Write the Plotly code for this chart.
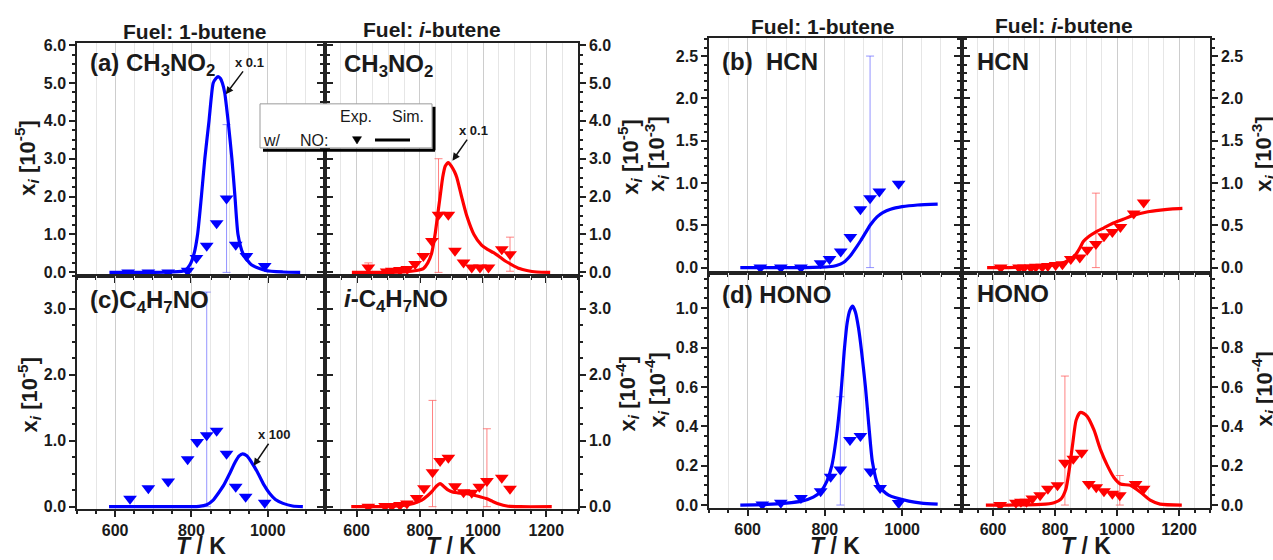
import plotly.graph_objects as go

W, H = 1273, 560
BLUE = "#0000ff"
RED = "#ff0000"
EB_BLUE = "rgba(90,90,255,0.65)"
EB_RED = "rgba(255,90,90,0.75)"
FONT = "Liberation Sans, Arial, sans-serif"
INK = "#1a1a1a"

# ---------------- data (T in K, mole fraction in the axis units) ----------------
# (a) CH3NO2, 1-butene  [1e-5], simulation scaled x0.1
a1_sim_T = [585, 650, 700, 750, 783, 796, 807, 816, 826, 835, 846, 857, 864, 870, 876, 881, 887, 896, 906, 914, 922, 935, 957, 994, 1040, 1085]
a1_sim_y = [0, 0, 0, 0.01, 0.05, 0.2, 0.5, 1.0, 2.0, 3.0, 4.0, 5.0, 5.12, 5.17, 5.12, 5.0, 4.75, 4.0, 3.0, 2.0, 1.0, 0.5, 0.2, 0.05, 0.01, 0]
a1_exp_T = [634, 687, 739, 790, 813, 840, 866, 892, 916, 944, 992]
a1_exp_y = [0.0, 0.0, 0.0, 0.04, 0.38, 0.70, 1.30, 1.95, 0.73, 0.43, 0.17]
a1_err_p = [None, None, None, None, None, None, None, 1.95, None, None, None]
a1_err_m = [None, None, None, None, None, None, None, 1.95, None, None, None]

# (a) CH3NO2, i-butene  [1e-5], simulation scaled x0.1
a2_sim_T = [585, 650, 700, 750, 790, 811, 825, 837, 848, 856, 864, 872, 880, 890, 900, 910, 917, 932, 948, 971, 995, 1015, 1033, 1054, 1070, 1091, 1115, 1138, 1170, 1212]
a2_sim_y = [0, 0, 0, 0.01, 0.05, 0.1, 0.25, 0.5, 1.0, 1.5, 2.0, 2.5, 2.8, 2.9, 2.8, 2.65, 2.5, 2.0, 1.5, 1.0, 0.72, 0.6, 0.52, 0.4, 0.3, 0.2, 0.1, 0.05, 0.01, 0]
a2_exp_T = [637, 695, 711, 737, 760, 785, 811, 838, 859, 890, 911, 938, 964, 990, 1017, 1059, 1085]
a2_exp_y = [0.13, 0.02, 0.04, 0.06, 0.09, 0.22, 0.43, 0.83, 1.52, 1.52, 0.57, 0.26, 0.13, 0.13, 0.13, 0.61, 0.48]
a2_err_p = [0.12, None, None, None, None, None, None, None, 1.48, None, None, None, None, None, None, None, 0.45]
a2_err_m = [0.12, None, None, None, None, None, None, None, 1.52, None, None, None, None, None, None, None, 0.45]

# (c) C4H7NO, 1-butene  [1e-5], simulation scaled x100
c1_sim_T = [584, 650, 700, 750, 800, 820, 840, 857, 870, 885, 900, 915, 925, 934, 945, 960, 975, 990, 1005, 1020, 1040, 1065, 1092]
c1_sim_y = [0, 0, 0, 0, 0, 0.005, 0.03, 0.1, 0.2, 0.33, 0.5, 0.68, 0.77, 0.8, 0.77, 0.65, 0.5, 0.33, 0.2, 0.11, 0.05, 0.01, 0]
c1_exp_T = [639, 687, 739, 790, 815, 840, 866, 892, 916, 942, 992]
c1_exp_y = [0.12, 0.28, 0.38, 0.72, 0.98, 1.08, 1.15, 0.80, 0.30, 0.15, 0.06]
c1_err_p = [None, None, None, None, None, 2.17, None, None, None, None, None]
c1_err_m = [None, None, None, None, None, 1.08, None, None, None, None, None]

# i-C4H7NO, i-butene  [1e-4]
c2_sim_T = [583, 650, 700, 748, 780, 806, 825, 840, 852, 864, 875, 890, 905, 920, 940, 965, 990, 1012, 1030, 1050, 1075, 1117, 1217]
c2_sim_y = [0, 0, 0.005, 0.02, 0.05, 0.1, 0.17, 0.24, 0.31, 0.35, 0.31, 0.25, 0.22, 0.21, 0.2, 0.18, 0.15, 0.12, 0.08, 0.04, 0.01, 0, 0]
c2_exp_T = [637, 690, 711, 737, 759, 790, 813, 840, 864, 890, 911, 938, 964, 988, 1012, 1059, 1085]
c2_exp_y = [0.0, 0.01, 0.01, 0.025, 0.05, 0.13, 0.28, 0.52, 0.69, 0.74, 0.31, 0.22, 0.21, 0.30, 0.39, 0.44, 0.27]
c2_err_p = [None, None, None, None, None, None, None, 1.09, None, None, None, None, None, None, 0.79, None, None]
c2_err_m = [None, None, None, None, None, None, None, 0.52, None, None, None, None, None, None, 0.39, None, None]

# (b) HCN, 1-butene  [1e-3]
b1_sim_T = [581, 650, 700, 750, 790, 810, 830, 848, 866, 880, 893, 905, 917, 935, 950, 970, 1000, 1040, 1092]
b1_sim_y = [0, 0, 0, 0, 0.005, 0.01, 0.025, 0.06, 0.14, 0.23, 0.32, 0.41, 0.5, 0.6, 0.65, 0.69, 0.72, 0.74, 0.75]
b1_exp_T = [633, 686, 738, 789, 812, 841, 866, 892, 917, 941, 991]
b1_exp_y = [0.0, 0.0, 0.0, 0.05, 0.10, 0.19, 0.36, 0.69, 0.82, 0.90, 0.99]
b1_err_p = [None, None, None, None, None, None, None, None, 1.68, None, None]
b1_err_m = [None, None, None, None, None, None, None, None, 0.82, None, None]

# HCN, i-butene  [1e-3]
b2_sim_T = [581, 650, 700, 750, 790, 822, 845, 866, 880, 892, 910, 931, 958, 985, 1020, 1054, 1100, 1140, 1180, 1211]
b2_sim_y = [0, 0, 0.005, 0.015, 0.03, 0.05, 0.09, 0.15, 0.23, 0.31, 0.37, 0.42, 0.47, 0.52, 0.57, 0.62, 0.66, 0.68, 0.695, 0.7]
b2_exp_T = [625, 684, 700, 722, 738, 759, 777, 802, 824, 851, 880, 904, 932, 958, 985, 1011, 1054, 1086]
b2_exp_y = [0.0, 0.0, 0.0, 0.0, 0.01, 0.01, 0.02, 0.03, 0.04, 0.10, 0.12, 0.21, 0.28, 0.37, 0.42, 0.48, 0.64, 0.77]
b2_err_p = [None, None, None, None, None, None, None, None, None, None, None, None, 0.60, None, None, None, None, None]
b2_err_m = [None, None, None, None, None, None, None, None, None, None, None, None, 0.28, None, None, None, None, None]

# (d) HONO, 1-butene  [1e-4]
d1_sim_T = [581, 650, 700, 740, 770, 790, 805, 818, 830, 841, 850, 858, 865, 872, 879, 887, 895, 905, 914, 923, 938, 965, 1017, 1050, 1092]
d1_sim_y = [0, 0.003, 0.01, 0.02, 0.04, 0.07, 0.12, 0.2, 0.35, 0.55, 0.78, 0.93, 0.99, 1.01, 0.98, 0.9, 0.78, 0.6, 0.4, 0.22, 0.1, 0.05, 0.02, 0.01, 0.005]
d1_exp_T = [638, 686, 738, 789, 815, 840, 865, 892, 918, 943, 991]
d1_exp_y = [0.003, 0.012, 0.036, 0.07, 0.144, 0.18, 0.33, 0.35, 0.17, 0.086, 0.01]
d1_err_p = [None, None, None, None, None, 0.37, None, None, None, None, None]
d1_err_m = [None, None, None, None, None, 0.18, None, None, None, None, None]

# HONO, i-butene  [1e-4]
d2_sim_T = [577, 650, 700, 755, 797, 819, 835, 846, 857, 868, 881, 893, 904, 926, 947, 969, 990, 1011, 1043, 1075, 1107, 1139, 1209]
d2_sim_y = [0, 0, 0.001, 0.003, 0.012, 0.03, 0.08, 0.18, 0.31, 0.43, 0.47, 0.465, 0.45, 0.38, 0.28, 0.2, 0.14, 0.107, 0.1, 0.066, 0.025, 0.005, 0]
d2_exp_T = [623, 674, 690, 708, 727, 752, 777, 808, 832, 859, 886, 909, 933, 958, 985, 1009, 1060, 1086]
d2_exp_y = [0.0, 0.012, 0.017, 0.017, 0.033, 0.05, 0.083, 0.1, 0.215, 0.235, 0.265, 0.107, 0.09, 0.07, 0.058, 0.05, 0.107, 0.083]
d2_err_p = [None, None, None, None, None, None, None, None, 0.44, None, None, None, None, None, None, 0.10, None, None]
d2_err_m = [None, None, None, None, None, None, None, None, 0.215, None, None, None, None, None, None, 0.05, None, None]

# tick values
x_ticks_short = [600, 800, 1000]
x_ticks_long = [600, 800, 1000, 1200]
y_ticks_a = [0, 1, 2, 3, 4, 5, 6]
y_ticks_c = [0, 1, 2, 3]
y_ticks_b = [0, 0.5, 1.0, 1.5, 2.0, 2.5]
y_ticks_d = [0, 0.2, 0.4, 0.6, 0.8, 1.0]

# ---------------- layout helpers ----------------
def fx(p):
    return p / W

def fy(p):
    return 1 - p / H

panels = {
    1: dict(l=77, r=325, t=38, b=275.5, xr=[500, 1150], yr=[-0.085, 6.05], side="left", yt=y_ticks_a, mdy=0.25, xt=x_ticks_short, xlab=False),
    2: dict(l=325, r=578, t=38, b=275.5, xr=[500, 1300], yr=[-0.085, 6.05], side="right", yt=y_ticks_a, mdy=0.25, xt=x_ticks_long, xlab=False),
    3: dict(l=77, r=325, t=275.5, b=514, xr=[500, 1150], yr=[-0.035, 3.5], side="left", yt=y_ticks_c, mdy=0.25, xt=x_ticks_short, xlab=True),
    4: dict(l=325, r=578, t=275.5, b=514, xr=[500, 1300], yr=[-0.035, 3.5], side="right", yt=y_ticks_c, mdy=0.25, xt=x_ticks_long, xlab=True),
    5: dict(l=709, r=962, t=33, b=272.5, xr=[500, 1155], yr=[-0.06, 2.71], side="left", yt=y_ticks_b, mdy=0.1, xt=x_ticks_short, xlab=False),
    6: dict(l=962, r=1210, t=33, b=272.5, xr=[500, 1300], yr=[-0.06, 2.71], side="right", yt=y_ticks_b, mdy=0.1, xt=x_ticks_long, xlab=False),
    7: dict(l=709, r=962, t=272.5, b=513, xr=[500, 1155], yr=[-0.015, 1.18], side="left", yt=y_ticks_d, mdy=0.05, xt=x_ticks_short, xlab=True),
    8: dict(l=962, r=1210, t=272.5, b=513, xr=[500, 1300], yr=[-0.015, 1.18], side="right", yt=y_ticks_d, mdy=0.05, xt=x_ticks_long, xlab=True),
}

series = {
    1: (a1_sim_T, a1_sim_y, a1_exp_T, a1_exp_y, a1_err_p, a1_err_m, BLUE, EB_BLUE),
    2: (a2_sim_T, a2_sim_y, a2_exp_T, a2_exp_y, a2_err_p, a2_err_m, RED, EB_RED),
    3: (c1_sim_T, c1_sim_y, c1_exp_T, c1_exp_y, c1_err_p, c1_err_m, BLUE, EB_BLUE),
    4: (c2_sim_T, c2_sim_y, c2_exp_T, c2_exp_y, c2_err_p, c2_err_m, RED, EB_RED),
    5: (b1_sim_T, b1_sim_y, b1_exp_T, b1_exp_y, b1_err_p, b1_err_m, BLUE, EB_BLUE),
    6: (b2_sim_T, b2_sim_y, b2_exp_T, b2_exp_y, b2_err_p, b2_err_m, RED, EB_RED),
    7: (d1_sim_T, d1_sim_y, d1_exp_T, d1_exp_y, d1_err_p, d1_err_m, BLUE, EB_BLUE),
    8: (d2_sim_T, d2_sim_y, d2_exp_T, d2_exp_y, d2_err_p, d2_err_m, RED, EB_RED),
}

fig = go.Figure()

for n, (sT, sy, eT, ey, ep, em, col, ecol) in series.items():
    xa = "x" if n == 1 else f"x{n}"
    ya = "y" if n == 1 else f"y{n}"
    fig.add_trace(go.Scatter(
        x=eT, y=ey, xaxis=xa, yaxis=ya, mode="markers",
        marker=dict(symbol="triangle-down", size=12, color=col, line=dict(width=0)),
        error_y=dict(type="data", symmetric=False, array=ep, arrayminus=em,
                     color=ecol, thickness=1, width=4),
        showlegend=False, hoverinfo="skip"))
    fig.add_trace(go.Scatter(
        x=sT, y=sy, xaxis=xa, yaxis=ya, mode="lines",
        line=dict(color=col, width=3.2, shape="spline", smoothing=0.6),
        showlegend=False, hoverinfo="skip"))

tickfont = dict(family=FONT, size=16, color=INK)
layout = dict(
    width=W, height=H, margin=dict(l=0, r=0, t=0, b=0),
    paper_bgcolor="white", plot_bgcolor="white", showlegend=False,
    font=dict(family=FONT, color=INK),
)
for n, p in panels.items():
    xk = "xaxis" if n == 1 else f"xaxis{n}"
    yk = "yaxis" if n == 1 else f"yaxis{n}"
    ya = "y" if n == 1 else f"y{n}"
    xa = "x" if n == 1 else f"x{n}"
    layout[xk] = dict(
        domain=[fx(p["l"]), fx(p["r"])], anchor=ya, range=p["xr"],
        showline=True, linecolor="#222", linewidth=1.5, mirror=True,
        ticks="outside", ticklen=6, tickwidth=1.5, tickcolor="#222",
        tickmode="array", tickvals=p["xt"], ticktext=[f"<b>{v}</b>" for v in p["xt"]],
        showticklabels=p["xlab"], tickfont=tickfont,
        showgrid=True, gridcolor="#cdcdcd", gridwidth=1, zeroline=False,
        minor=dict(tick0=0, dtick=50, ticks="outside", ticklen=3, tickcolor="#222",
                   showgrid=True, gridcolor="#e6e6e6", gridwidth=1),
    )
    layout[yk] = dict(
        domain=[fy(p["b"]), fy(p["t"])], anchor=xa, range=p["yr"], side=p["side"],
        showline=True, linecolor="#222", linewidth=1.5, mirror="allticks",
        ticks="outside", ticklen=6, tickwidth=1.5, tickcolor="#222",
        tickmode="array", tickvals=p["yt"], ticktext=[f"<b>{v:.1f}</b>" for v in p["yt"]],
        tickfont=tickfont, showgrid=False, zeroline=False,
        minor=dict(tick0=0, dtick=p["mdy"], ticks="outside", ticklen=3, tickcolor="#222", showgrid=False),
    )

annotations = []

def txt(x, y, text, size, xanchor="center", angle=0):
    annotations.append(dict(
        xref="paper", yref="paper", x=fx(x), y=fy(y), text=text, showarrow=False,
        xanchor=xanchor, yanchor="middle", textangle=angle,
        font=dict(family=FONT, size=size, color=INK)))

# fuel titles
txt(195, 26, "<b>Fuel: 1-butene</b>", 21)
txt(432, 24, "<b>Fuel: <i>i</i>-butene</b>", 21)
txt(823, 21, "<b>Fuel: 1-butene</b>", 21)
txt(1064, 20, "<b>Fuel: <i>i</i>-butene</b>", 21)

# panel labels
txt(88, 60, "<b>(a) CH<sub>3</sub>NO<sub>2</sub></b>", 24, "left")
txt(342, 61, "<b>CH<sub>3</sub>NO<sub>2</sub></b>", 24, "left")
txt(88, 302, "<b>(c)C<sub>4</sub>H<sub>7</sub>NO</b>", 24, "left")
txt(342, 301, "<b><i>i</i>-C<sub>4</sub>H<sub>7</sub>NO</b>", 24, "left")
txt(720, 57, "<b>(b)&nbsp; HCN</b>", 24, "left")
txt(975, 57, "<b>HCN</b>", 24, "left")
txt(720, 295, "<b>(d) HONO</b>", 24, "left")
txt(975, 294, "<b>HONO</b>", 24, "left")

# axis titles
TT = "<b><i>T</i> / K</b>"
for cx in (201, 451, 835, 1086):
    txt(cx, 552, TT, 23)

def ytitle(e):
    return f"<b>x<sub><i>i</i></sub> [10<sup>-{e}</sup>]</b>"

txt(27, 155, ytitle(5), 22, angle=-90)
txt(29, 398, ytitle(5), 22, angle=-90)
txt(630, 155, ytitle(5), 22, angle=-90)
txt(627, 397, ytitle(4), 22, angle=-90)
txt(657, 152, ytitle(3), 22, angle=-90)
txt(657, 393, ytitle(4), 22, angle=-90)
txt(1264, 152, ytitle(3), 22, angle=-90)
txt(1264, 392, ytitle(4), 22, angle=-90)

# scaling-factor arrows
def arrow(xa, ya, x, y, text, ax, ay):
    annotations.append(dict(
        xref=xa, yref=ya, x=x, y=y, text=f"<b>{text}</b>", showarrow=True,
        arrowhead=2, arrowsize=1, arrowwidth=1.5, arrowcolor="#111",
        ax=ax, ay=ay, font=dict(family=FONT, size=13, color=INK)))

arrow("x", "y", 890, 4.7, "x 0.1", 24, -32)
arrow("x2", "y2", 903, 2.95, "x 0.1", 21, -30)
arrow("x3", "y3", 963, 0.62, "x 100", 21, -31)

# legend box
txt(356, 113, "Exp.", 16)
txt(408, 113, "Sim.", 16)
txt(272, 137, "w/", 16)
txt(314, 137, "NO:", 16)
layout["annotations"] = annotations

shapes = [
    dict(type="rect", xref="paper", yref="paper", x0=fx(260), x1=fx(432), y0=fy(145), y1=fy(100),
         fillcolor="white", line=dict(color="#9a9a9a", width=1), layer="above"),
    dict(type="line", xref="paper", yref="paper", x0=fx(263), x1=fx(435), y0=fy(147.5), y1=fy(147.5),
         line=dict(color="black", width=3), layer="above"),
    dict(type="line", xref="paper", yref="paper", x0=fx(434), x1=fx(434), y0=fy(103), y1=fy(147.5),
         line=dict(color="black", width=3), layer="above"),
    dict(type="line", xref="paper", yref="paper", x0=fx(375), x1=fx(410), y0=fy(137), y1=fy(137),
         line=dict(color="black", width=3), layer="above"),
    dict(type="path", xref="paper", yref="paper",
         path=f"M {fx(352.5)},{fy(133.5)} L {fx(361.5)},{fy(133.5)} L {fx(357)},{fy(141)} Z",
         fillcolor="black", line=dict(color="black", width=0.5), layer="above"),
]
layout["shapes"] = shapes

fig.update_layout(**layout)
fig.write_html("out.html")
